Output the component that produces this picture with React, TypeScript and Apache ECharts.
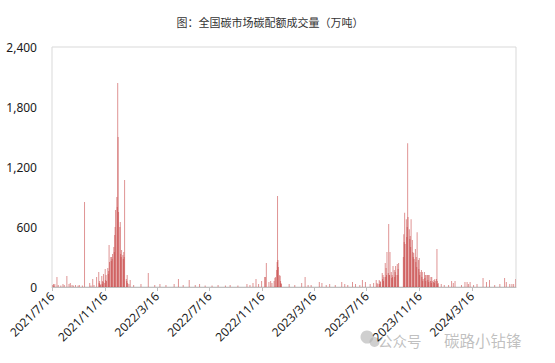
import React, { useEffect, useRef } from "react";
import * as echarts from "echarts";

const TITLE = "图：全国碳市场碳配额成交量（万吨）";
const AXIS_START = "2021/7/16";
const AXIS_END = "2024/6/26";
const tickLabels = [
  "2021/7/16", "2021/11/16", "2022/3/16", "2022/7/16", "2022/11/16",
  "2023/3/16", "2023/7/16", "2023/11/16", "2024/3/16",
];
const yTicks = [0, 600, 1200, 1800, 2400];
const watermarkTexts = ["公众号", "碳路小钻锋"];

const dates2021 = [
  "2021/7/16", "2021/7/19", "2021/7/20", "2021/7/22", "2021/7/27", "2021/7/30", "2021/8/5", "2021/8/10",
  "2021/8/13", "2021/8/19", "2021/8/24", "2021/8/27", "2021/8/31", "2021/9/3", "2021/9/8", "2021/9/14",
  "2021/9/17", "2021/9/24", "2021/9/29", "2021/10/11", "2021/10/14", "2021/10/18", "2021/10/21", "2021/10/27",
  "2021/11/1", "2021/11/2", "2021/11/3", "2021/11/4", "2021/11/5", "2021/11/8", "2021/11/9", "2021/11/10",
  "2021/11/11", "2021/11/12", "2021/11/15", "2021/11/16", "2021/11/17", "2021/11/18", "2021/11/19", "2021/11/22",
  "2021/11/23", "2021/11/24", "2021/11/25", "2021/11/26", "2021/11/29", "2021/11/30", "2021/12/1", "2021/12/2",
  "2021/12/3", "2021/12/6", "2021/12/7", "2021/12/8", "2021/12/9", "2021/12/10", "2021/12/13", "2021/12/14",
  "2021/12/15", "2021/12/16", "2021/12/17", "2021/12/20", "2021/12/21", "2021/12/22", "2021/12/23", "2021/12/24",
  "2021/12/27", "2021/12/28", "2021/12/29", "2021/12/30", "2021/12/31",
];
const vols2021 = [
  20, 30, 15, 30, 100, 20, 15, 30,
  20, 110, 30, 40, 20, 15, 20, 15,
  20, 15, 850, 40, 15, 80, 20, 100,
  150, 40, 60, 30, 20, 110, 30, 60,
  50, 130, 40, 180, 70, 120, 60, 190,
  130, 160, 420, 250, 300, 260, 300, 280,
  330, 400, 350, 520, 600, 770, 900, 800,
  2040, 1500, 750, 600, 650, 330, 300, 370,
  320, 280, 350, 300, 1070,
];

const dates2022 = [
  "2022/1/4", "2022/1/5", "2022/1/6", "2022/1/7", "2022/1/10", "2022/1/13", "2022/1/21", "2022/2/7",
  "2022/2/24", "2022/3/11", "2022/3/23", "2022/4/6", "2022/4/25", "2022/5/5", "2022/5/16", "2022/5/30",
  "2022/6/13", "2022/6/23", "2022/7/6", "2022/7/22", "2022/8/5", "2022/8/22", "2022/9/2", "2022/9/20",
  "2022/10/11", "2022/10/18", "2022/10/25", "2022/11/1", "2022/11/7", "2022/11/14", "2022/11/21", "2022/11/23",
  "2022/11/25", "2022/12/1", "2022/12/5", "2022/12/8", "2022/12/13", "2022/12/15", "2022/12/16", "2022/12/19",
  "2022/12/20", "2022/12/21", "2022/12/22", "2022/12/23", "2022/12/26", "2022/12/27", "2022/12/28", "2022/12/29",
  "2022/12/30",
];
const vols2022 = [
  80, 60, 120, 40, 30, 70, 20, 30,
  140, 20, 30, 20, 30, 80, 20, 70,
  20, 30, 15, 15, 20, 15, 20, 15,
  30, 20, 40, 80, 30, 60, 100, 100,
  240, 50, 60, 40, 60, 90, 100, 170,
  250, 910, 270, 200, 120, 110, 60, 40,
  30,
];

const dates2023 = [
  "2023/1/17", "2023/1/30", "2023/2/15", "2023/2/23", "2023/3/2", "2023/3/9", "2023/3/28", "2023/4/3",
  "2023/4/13", "2023/4/21", "2023/5/4", "2023/5/19", "2023/5/26", "2023/6/2", "2023/6/13", "2023/6/20",
  "2023/6/30", "2023/7/6", "2023/7/13", "2023/7/24", "2023/8/1", "2023/8/7", "2023/8/9", "2023/8/11",
  "2023/8/14", "2023/8/15", "2023/8/16", "2023/8/17", "2023/8/21", "2023/8/22", "2023/8/23", "2023/8/24",
  "2023/8/25", "2023/8/28", "2023/8/29", "2023/8/30", "2023/8/31", "2023/9/1", "2023/9/4", "2023/9/5",
  "2023/9/6", "2023/9/7", "2023/9/8", "2023/9/11", "2023/9/12", "2023/9/13", "2023/9/14", "2023/9/15",
  "2023/9/18", "2023/9/19", "2023/9/20", "2023/9/21", "2023/9/22", "2023/9/25", "2023/9/26", "2023/9/27",
  "2023/9/28", "2023/10/9", "2023/10/10", "2023/10/11", "2023/10/12", "2023/10/13", "2023/10/16", "2023/10/17",
  "2023/10/18", "2023/10/19", "2023/10/20", "2023/10/23", "2023/10/24", "2023/10/25", "2023/10/26", "2023/10/27",
  "2023/10/30", "2023/10/31", "2023/11/1", "2023/11/2", "2023/11/3", "2023/11/6", "2023/11/7", "2023/11/8",
  "2023/11/9", "2023/11/10", "2023/11/13", "2023/11/14", "2023/11/15", "2023/11/16", "2023/11/17", "2023/11/20",
  "2023/11/21", "2023/11/22", "2023/11/23", "2023/11/24", "2023/11/27", "2023/11/28", "2023/11/29", "2023/11/30",
  "2023/12/1", "2023/12/4", "2023/12/5", "2023/12/6", "2023/12/7", "2023/12/8", "2023/12/11", "2023/12/12",
  "2023/12/13", "2023/12/14", "2023/12/15", "2023/12/18", "2023/12/19", "2023/12/20", "2023/12/21", "2023/12/22",
  "2023/12/25", "2023/12/26", "2023/12/27", "2023/12/28", "2023/12/29",
];
const vols2023 = [
  30, 20, 40, 100, 20, 20, 50, 40,
  20, 30, 20, 50, 30, 20, 50, 30,
  20, 70, 50, 30, 40, 70, 40, 30,
  70, 30, 60, 50, 140, 80, 120, 60,
  100, 240, 100, 190, 120, 350, 140, 630,
  120, 120, 350, 150, 90, 120, 100, 210,
  170, 100, 150, 210, 120, 230, 120, 180,
  240, 300, 527, 450, 743, 430, 677, 500,
  600, 1437, 700, 577, 480, 510, 400, 677,
  470, 350, 300, 340, 280, 380, 250, 300,
  200, 547, 270, 180, 290, 120, 150, 170,
  100, 150, 60, 80, 150, 90, 120, 60,
  120, 120, 70, 120, 50, 120, 60, 100,
  40, 100, 60, 50, 70, 40, 80, 60,
  80, 380, 60, 30, 40,
];

const dates2024 = [
  "2024/1/5", "2024/1/12", "2024/1/22", "2024/1/29", "2024/2/2", "2024/2/6", "2024/2/21", "2024/2/29",
  "2024/3/5", "2024/3/8", "2024/3/12", "2024/3/20", "2024/3/28", "2024/4/11", "2024/4/19", "2024/4/26",
  "2024/5/8", "2024/5/20", "2024/5/31", "2024/6/4", "2024/6/12", "2024/6/17", "2024/6/21", "2024/6/26",
];
const vols2024 = [
  30, 20, 20, 60, 40, 60, 20, 50,
  50, 30, 50, 20, 30, 90, 50, 70,
  20, 30, 90, 50, 30, 30, 30, 80,
];

function parseDay(s: string): number {
  const [y, m, d] = s.split("/").map(Number);
  return Date.UTC(y, m - 1, d);
}
function fmtDay(t: number): string {
  const dt = new Date(t);
  return `${dt.getUTCFullYear()}/${dt.getUTCMonth() + 1}/${dt.getUTCDate()}`;
}

export default function App() {
  const ref = useRef<HTMLDivElement>(null);
  useEffect(() => {
    if (!ref.current) return;
    const chart = echarts.init(ref.current, undefined, { renderer: "svg" });

    const categories: string[] = [];
    for (let t = parseDay(AXIS_START); t <= parseDay(AXIS_END); t += 86400000) {
      categories.push(fmtDay(t));
    }
    const volMap = new Map<string, number>();
    const addAll = (ds: string[], vs: number[]) => ds.forEach((d, i) => volMap.set(d, vs[i]));
    addAll(dates2021, vols2021);
    addAll(dates2022, vols2022);
    addAll(dates2023, vols2023);
    addAll(dates2024, vols2024);
    const seriesData = categories.map((c) => (volMap.has(c) ? volMap.get(c)! : null));
    const tickSet = new Set(tickLabels);
    const showTick = (_i: number, v: string) => tickSet.has(v);

    chart.setOption({
      animation: false,
      backgroundColor: "#ffffff",
      title: {
        text: TITLE,
        left: 265,
        textAlign: "center",
        top: 11,
        textStyle: {
          fontSize: 11,
          fontWeight: "normal",
          color: "#333333",
          fontFamily: "Noto Sans CJK SC",
        },
      },
      grid: {
        left: 52,
        right: 39,
        top: 47,
        bottom: 76,
        show: true,
        borderColor: "#d9d9d9",
        borderWidth: 1,
      },
      xAxis: {
        type: "category",
        data: categories,
        boundaryGap: true,
        z: 5,
        axisLine: { show: true, lineStyle: { color: "#bfbfbf", width: 1 } },
        axisTick: {
          show: true,
          alignWithLabel: true,
          interval: showTick,
          length: 4,
          lineStyle: { color: "#bfbfbf" },
        },
        axisLabel: {
          interval: showTick,
          rotate: 45,
          margin: 7,
          fontSize: 12,
          color: "#1a1a1a",
          fontFamily: "Noto Sans",
        },
        splitLine: { show: false },
      },
      yAxis: {
        type: "value",
        min: yTicks[0],
        max: yTicks[yTicks.length - 1],
        interval: 600,
        axisLine: { show: false },
        axisTick: { show: false },
        splitLine: { show: false },
        axisLabel: {
          margin: 15,
          fontSize: 12,
          color: "#1a1a1a",
          fontFamily: "Noto Sans",
          formatter: (v: number) => v.toLocaleString("en-US"),
        },
      },
      series: [
        {
          type: "bar",
          data: seriesData,
          barWidth: 0.9,
          itemStyle: { color: "rgba(196,60,60,0.55)" },
          emphasis: { disabled: true },
        },
      ],
      graphic: [
        { type: "circle", shape: { cx: 367, cy: 337, r: 6.5 }, style: { fill: "rgba(175,175,175,0.6)" }, z: 1 },
        { type: "circle", shape: { cx: 374.5, cy: 342, r: 5 }, style: { fill: "rgba(175,175,175,0.6)" }, z: 1 },
        {
          type: "text",
          x: 378,
          y: 340,
          z: 1,
          style: {
            text: watermarkTexts[0],
            fontSize: 14.5,
            fill: "rgba(150,150,150,0.6)",
            fontFamily: "Noto Sans CJK SC",
            verticalAlign: "middle",
          },
        },
        {
          type: "text",
          x: 444,
          y: 340,
          z: 1,
          style: {
            text: watermarkTexts[1],
            fontSize: 15.5,
            fill: "rgba(150,150,150,0.6)",
            fontFamily: "Noto Sans CJK SC",
            verticalAlign: "middle",
          },
        },
      ],
    });
    return () => chart.dispose();
  }, []);
  return (
    <div
      ref={ref}
      style={{ position: "absolute", left: 0, top: 0, width: 555, height: 363 }}
    />
  );
}
